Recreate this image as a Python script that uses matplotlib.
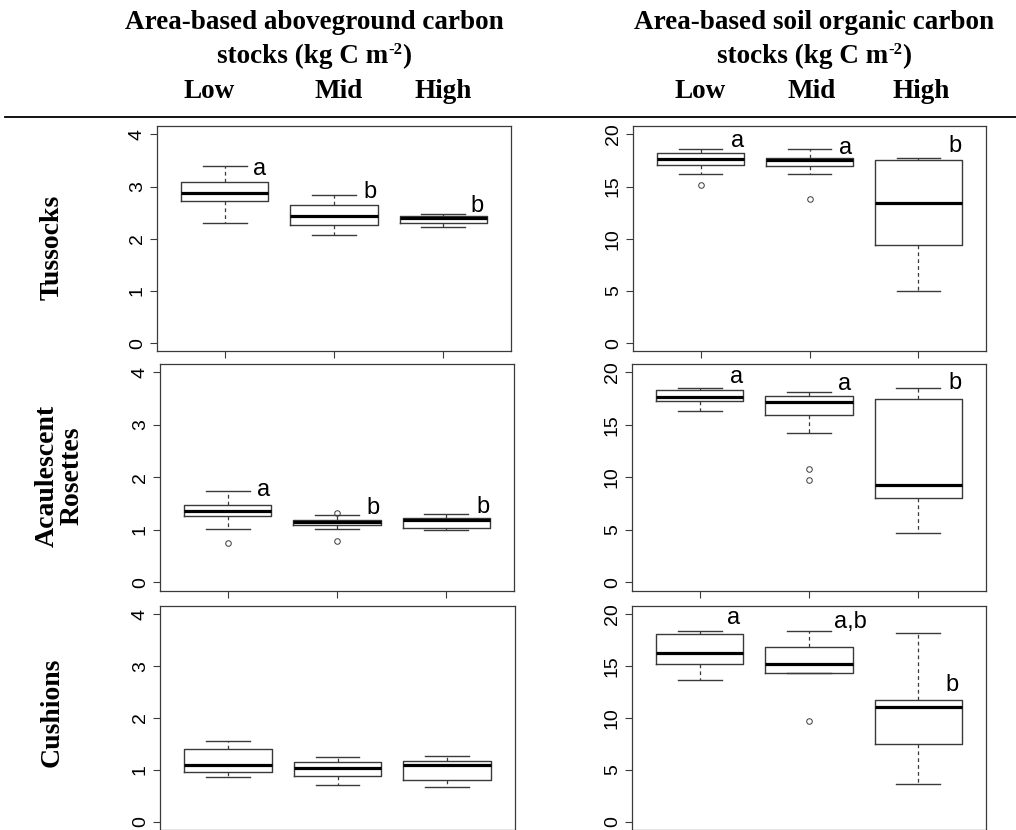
import matplotlib
matplotlib.use("Agg")
import matplotlib.pyplot as plt
from matplotlib.lines import Line2D

W, H = 1016, 830

groups = ["Low", "Mid", "High"]
row_names = ["Tussocks", "Acaulescent\nRosettes", "Cushions"]
col_titles = ["Area-based aboveground carbon", "Area-based soil organic carbon"]

# five-number summaries per group: (whislo, q1, med, q3, whishi)
tus_agc = [(2.30, 2.72, 2.87, 3.08, 3.39),
           (2.07, 2.26, 2.43, 2.65, 2.84),
           (2.22, 2.31, 2.40, 2.43, 2.48)]
tus_agc_out = [[], [], []]
tus_soc = [(16.20, 17.05, 17.66, 18.20, 18.56),
           (16.18, 16.98, 17.50, 17.69, 18.62),
           (4.98, 9.44, 13.42, 17.50, 17.75)]
tus_soc_out = [[15.15], [13.84], []]

aca_agc = [(1.01, 1.27, 1.35, 1.47, 1.74),
           (1.01, 1.09, 1.14, 1.18, 1.28),
           (0.99, 1.03, 1.18, 1.22, 1.29)]
aca_agc_out = [[0.74], [0.78, 1.32], []]
aca_soc = [(16.35, 17.24, 17.66, 18.30, 18.53),
           (14.20, 15.90, 17.21, 17.79, 18.10),
           (4.68, 8.01, 9.26, 17.47, 18.49)]
aca_soc_out = [[], [10.77, 9.78], []]

cus_agc = [(0.86, 0.96, 1.10, 1.40, 1.56),
           (0.71, 0.89, 1.04, 1.15, 1.25),
           (0.67, 0.81, 1.09, 1.17, 1.26)]
cus_agc_out = [[], [], []]
cus_soc = [(13.62, 15.19, 16.31, 18.08, 18.40),
           (14.33, 14.33, 15.19, 16.83, 18.43),
           (3.62, 7.47, 11.06, 11.73, 18.24)]
cus_soc_out = [[], [9.71], []]

# significance letters
tus_agc_let = ["a", "b", "b"]
tus_soc_let = ["a", "a", "b"]
aca_agc_let = ["a", "b", "b"]
aca_soc_let = ["a", "a", "b"]
cus_agc_let = None
cus_soc_let = ["a", "a,b", "b"]

# letter anchor points (x, y) in data units
tus_agc_lpos = [(1.32, 3.34), (2.33, 2.90), (3.31, 2.62)]
tus_soc_lpos = [(1.34, 19.4), (2.33, 18.7), (3.34, 18.85)]
aca_agc_lpos = [(1.33, 1.76), (2.33, 1.42), (3.34, 1.44)]
aca_soc_lpos = [(1.34, 19.55), (2.33, 18.9), (3.34, 19.0)]
cus_soc_lpos = [(1.31, 19.6), (2.38, 19.3), (3.31, 13.2)]

panels = [
    [(tus_agc, tus_agc_out, tus_agc_let, tus_agc_lpos, 4),
     (tus_soc, tus_soc_out, tus_soc_let, tus_soc_lpos, 20)],
    [(aca_agc, aca_agc_out, aca_agc_let, aca_agc_lpos, 4),
     (aca_soc, aca_soc_out, aca_soc_let, aca_soc_lpos, 20)],
    [(cus_agc, cus_agc_out, cus_agc_let, None, 4),
     (cus_soc, cus_soc_out, cus_soc_let, cus_soc_lpos, 20)],
]

# panel layout in pixels
row_top = [126, 364, 606]
row_bot = [351.5, 590.5, 830]
col_x = [[(157, 511), (633, 986)],
         [(160, 514), (632, 986)],
         [(160, 515), (632, 986)]]

fig = plt.figure(figsize=(W / 100, H / 100), dpi=100)

sans = "Liberation Sans"
serif = "Liberation Serif"
edge = "#3a3a3a"

for r in range(3):
    for c in range(2):
        stats5, outs, lets, lpos, ymax = panels[r][c]
        x0, x1 = col_x[r][c]
        ax = fig.add_axes([x0 / W, (H - row_bot[r]) / H,
                           (x1 - x0) / W, (row_bot[r] - row_top[r]) / H])
        bstats = []
        for (lo, q1, md, q3, hi), fl in zip(stats5, outs):
            bstats.append(dict(whislo=lo, q1=q1, med=md, q3=q3, whishi=hi, fliers=fl))
        ax.bxp(bstats, positions=[1, 2, 3], widths=0.8, capwidths=0.4,
               boxprops=dict(color=edge, lw=1.0),
               medianprops=dict(color="black", lw=2.3, solid_capstyle="butt"),
               whiskerprops=dict(color=edge, lw=0.9, linestyle=(0, (3, 2.5))),
               capprops=dict(color=edge, lw=1.0),
               flierprops=dict(marker="o", mfc="none", mec=edge, ms=4, mew=0.7))
        pad = ymax * 0.04
        ax.set_xlim(0.38, 3.62)
        ax.set_ylim(-pad, ymax + pad)
        ax.set_xticks([1, 2, 3])
        ax.set_xticklabels([])
        step = 1 if ymax == 4 else 5
        ax.set_yticks(range(0, ymax + 1, step))
        ax.tick_params(length=5, width=0.8, color=edge, labelsize=14, pad=3)
        for lab in ax.get_yticklabels():
            lab.set_rotation(90)
            lab.set_va("center")
            lab.set_family(sans)
        for sp in ax.spines.values():
            sp.set_color(edge)
            sp.set_linewidth(0.9)
        if lets:
            for t, (lx, ly) in zip(lets, lpos):
                ax.text(lx, ly, t, ha="center", va="center", fontsize=17,
                        family=sans)

# row labels
row_lab_x = [52, 60, 52]
row_lab_y = [247, 476, 712]
for name, lx, ly in zip(row_names, row_lab_x, row_lab_y):
    fig.text(lx / W, 1 - ly / H, name, rotation=90, ha="center", va="center",
             family=serif, weight="bold", fontsize=20, linespacing=1.0)

# column headers
title_cx = [314, 814]
group_cx = [[209, 339, 443], [700, 812, 921]]
hdr = dict(family=serif, weight="bold", va="baseline")
renderer = fig.canvas.get_renderer()
for c in range(2):
    fig.text(title_cx[c] / W, 1 - 29 / H, col_titles[c], ha="center",
             fontsize=19.5, **hdr)
    # "stocks (kg C m-2)" with a small raised "-2"
    parts = [fig.text(0, 1 - 63 / H, "stocks (kg C m", ha="left", fontsize=19.5, **hdr),
             fig.text(0, 1 - 54 / H, "-2", ha="left", fontsize=12, **hdr),
             fig.text(0, 1 - 63 / H, ")", ha="left", fontsize=19.5, **hdr)]
    widths = [p.get_window_extent(renderer).width for p in parts]
    xpos = title_cx[c] - sum(widths) / 2
    for p, w in zip(parts, widths):
        p.set_x(xpos / W)
        xpos += w
    for g, gx in zip(groups, group_cx[c]):
        fig.text(gx / W, 1 - 98 / H, g, ha="center", fontsize=19.5, **hdr)

fig.add_artist(Line2D([5 / W, 1.0], [1 - 117.5 / H] * 2, color="black", lw=1.3))

fig.savefig("out.png", dpi=100)
